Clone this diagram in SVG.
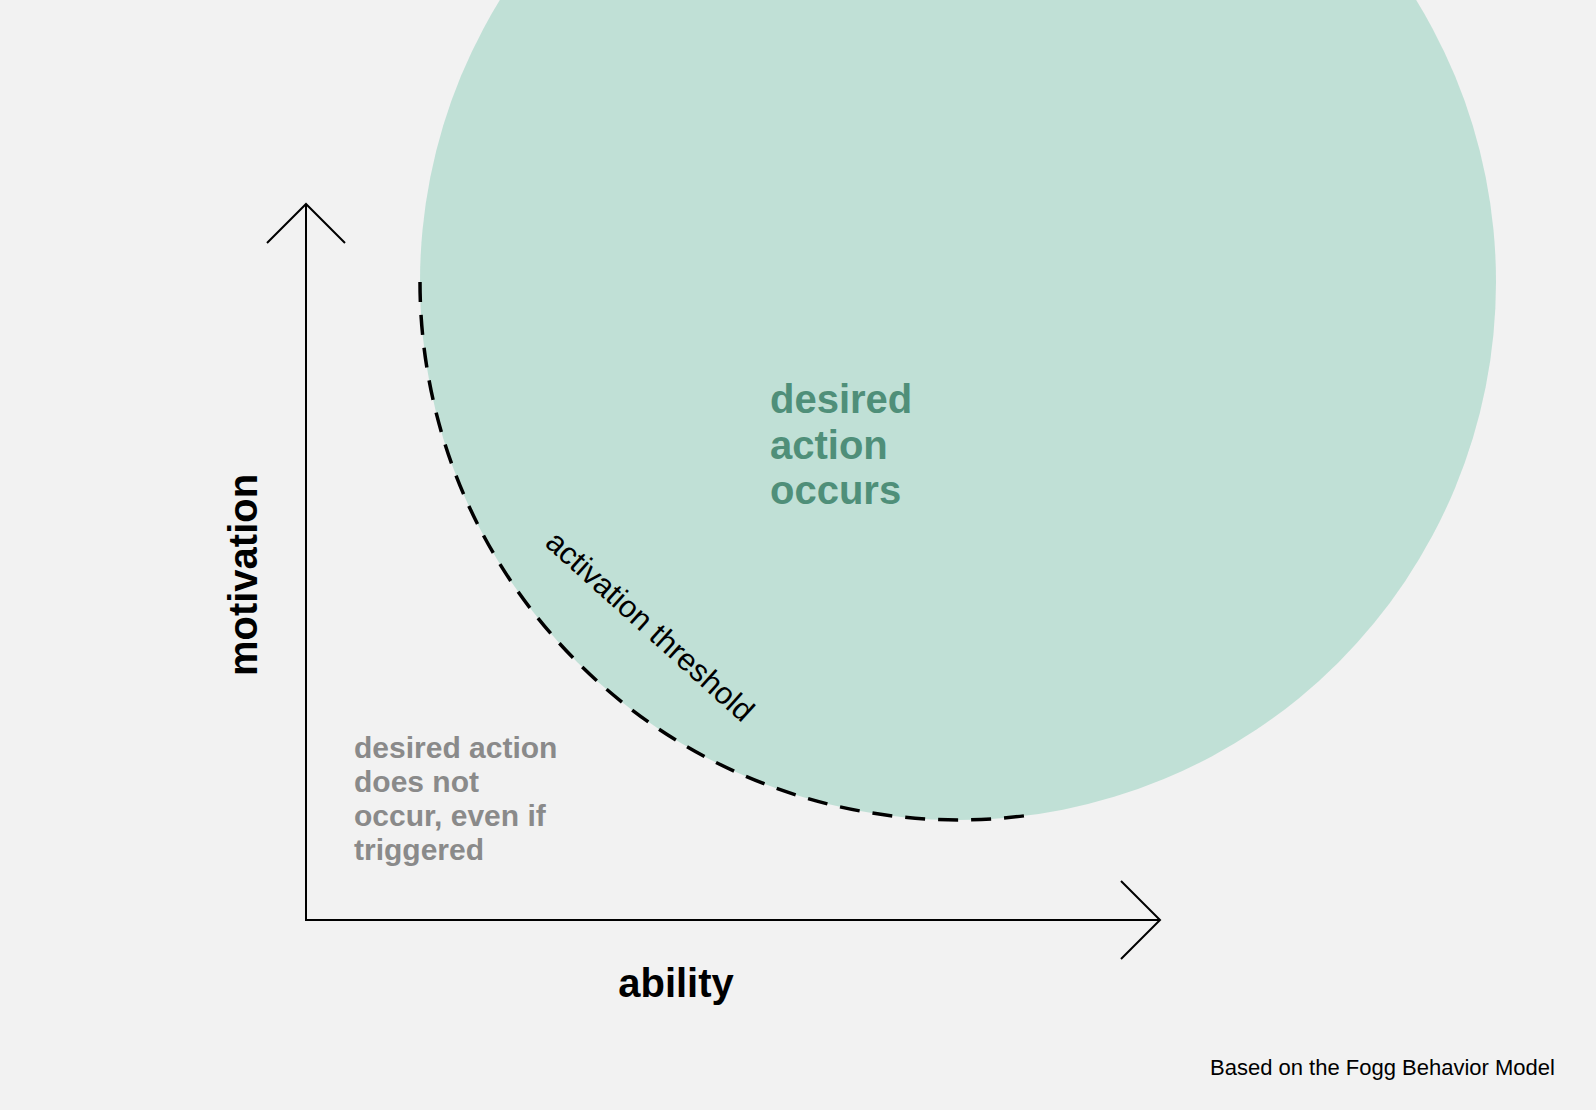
<svg xmlns="http://www.w3.org/2000/svg" width="1596" height="1110" viewBox="0 0 1596 1110">
<style>
.axis{fill:none;stroke:#000;stroke-width:2}
.big{font-family:"Liberation Sans",Arial,sans-serif;font-weight:bold;font-size:40px}
.grey{font-family:"Liberation Sans",Arial,sans-serif;font-weight:bold;font-size:30px;fill:#8a8a8a}
.thin{font-family:"Liberation Sans",Arial,sans-serif;font-size:31px;fill:#000}
</style>
<rect width="1596" height="1110" fill="#f2f2f2"/>
<g id="circle-zone">
<circle cx="958" cy="282" r="538" fill="#c0e0d6"/>
</g>
<g id="threshold">
<path d="M420,282 A538,538 0 0,0 1027,815.5" fill="none" stroke="#000" stroke-width="3.5" stroke-dasharray="20 13"/>
<text class="thin" transform="translate(643,634) rotate(42)" text-anchor="middle">activation threshold</text>
</g>
<g id="connectors">
<line class="axis" x1="306" y1="204" x2="306" y2="920"/>
<line class="axis" x1="305" y1="920" x2="1160" y2="920"/>
<polyline class="axis" points="267,243 306,204 345,243"/>
<polyline class="axis" points="1121,881 1160,920 1121,959"/>
</g>
<g id="occurs-label">
<text class="big" fill="#4f8f79"><tspan x="770" y="413">desired</tspan><tspan x="770" y="459">action</tspan><tspan x="770" y="504">occurs</tspan></text>
</g>
<g id="not-occur-label">
<text class="grey"><tspan x="354" y="758">desired action</tspan><tspan x="354" y="792">does not</tspan><tspan x="354" y="826">occur, even if</tspan><tspan x="354" y="860">triggered</tspan></text>
</g>
<g id="motivation-label">
<text class="big" fill="#000" transform="translate(257,575) rotate(-90)" text-anchor="middle">motivation</text>
</g>
<g id="ability-label">
<text class="big" fill="#000" x="676" y="997" text-anchor="middle">ability</text>
</g>
<g id="credit">
<text font-family="Liberation Sans, Arial, sans-serif" font-size="22" x="1210" y="1075" fill="#000">Based on the Fogg Behavior Model</text>
</g>
</svg>
